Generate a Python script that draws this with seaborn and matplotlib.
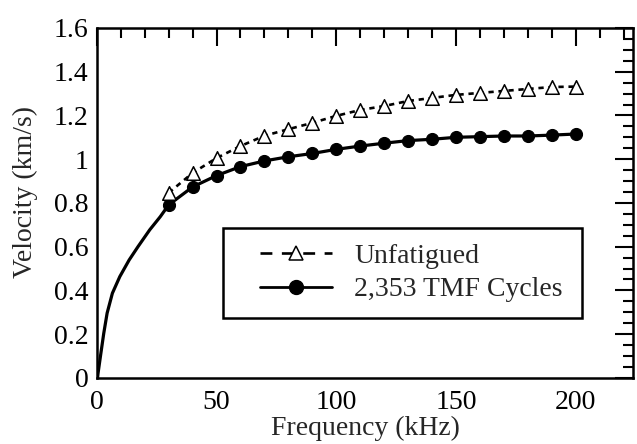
import numpy as np
import pandas as pd
import matplotlib
matplotlib.use("Agg")
import matplotlib.pyplot as plt
from matplotlib.lines import Line2D
from matplotlib.patches import Rectangle
from matplotlib.ticker import MultipleLocator
import seaborn as sns

# Measured points (kHz, km/s)
freq_pts = [30, 40, 50, 60, 70, 80, 90, 100, 110, 120, 130, 140, 150, 160, 170, 180, 190, 200]
vel_unfatigued = [0.846, 0.937, 1.005, 1.06, 1.107, 1.137, 1.166, 1.198, 1.225, 1.243,
                  1.266, 1.28, 1.294, 1.303, 1.312, 1.321, 1.33, 1.332]
vel_tmf = [0.791, 0.873, 0.925, 0.966, 0.992, 1.011, 1.026, 1.045, 1.06, 1.073,
           1.085, 1.091, 1.100, 1.103, 1.106, 1.106, 1.110, 1.115]

# Low-frequency branch of the dispersion curve
freq_low = [0.3, 0.5, 1.7, 2.9, 4.3, 6.5, 9.6, 13.5, 17.2, 22.1, 26.5]
vel_low = [0.0, 0.02, 0.113, 0.204, 0.296, 0.387, 0.463, 0.539, 0.6, 0.677, 0.737]

label_unfat = "Unfatigued"
label_tmf = "2,353 TMF Cycles"

sns.set_style("white")
plt.rcParams["font.family"] = ["Liberation Serif", "DejaVu Serif"]

FS = 20

fig = plt.figure(figsize=(6.37, 4.44), dpi=100)
ax = fig.add_axes([0.152, 0.149, 0.842, 0.788])

tmf_line = pd.DataFrame({"f": freq_low + freq_pts, "v": vel_low + vel_tmf})
unf_line = pd.DataFrame({"f": freq_pts, "v": vel_unfatigued})

sns.lineplot(data=tmf_line, x="f", y="v", ax=ax, color="black", lw=2.3,
             sort=True, estimator=None)
sns.lineplot(data=unf_line, x="f", y="v", ax=ax, color="black", lw=1.9,
             estimator=None)
ax.lines[-1].set_dashes((2.0, 1.8))

sns.scatterplot(x=freq_pts, y=vel_tmf, ax=ax, marker="o", s=75, color="black",
                edgecolor="black", linewidth=0.8, zorder=5)
sns.scatterplot(x=freq_pts, y=vel_unfatigued, ax=ax, marker="^", s=95,
                facecolor="white", edgecolor="black", linewidth=1.1, zorder=5)

ax.set_xlim(0, 224)
ax.set_ylim(0, 1.6)
ax.xaxis.set_major_locator(MultipleLocator(50))
ax.xaxis.set_minor_locator(MultipleLocator(10))
ax.yaxis.set_major_locator(MultipleLocator(0.2))
ax.yaxis.set_minor_locator(MultipleLocator(0.05))
ax.set_yticks(ax.get_yticks())
ax.set_yticklabels([("0" if abs(t) < 1e-9 else ("1" if abs(t - 1) < 1e-9 else f"{t:g}"))
                    for t in ax.get_yticks()])
ax.set_ylim(0, 1.6)

ax.tick_params(which="both", direction="in", top=True, right=True,
               width=1.5, colors="black", labelsize=FS, pad=6)
ax.tick_params(axis="x", which="both", pad=9)
ax.tick_params(which="major", length=13)
ax.tick_params(which="minor", length=7)
for s in ax.spines.values():
    s.set_linewidth(1.8)
    s.set_color("black")

ax.set_xlabel("Frequency (kHz)", fontsize=FS, labelpad=0)
ax.set_ylabel("Velocity (km/s)", fontsize=FS)
ax.yaxis.set_label_coords(-0.11, 0.53)

# Legend frame drawn as a box in axes coordinates
ax.add_patch(Rectangle((0.235, 0.171), 0.67, 0.257, transform=ax.transAxes,
                       facecolor="white", edgecolor="black", lw=1.8, zorder=6))

handles = [
    Line2D([], [], color="black", lw=1.9, dashes=(4.5, 3.6), marker="^", markersize=10,
           markerfacecolor="white", markeredgecolor="black", markeredgewidth=1.1),
    Line2D([], [], color="black", lw=2.0, marker="o", markersize=10,
           markerfacecolor="black", markeredgecolor="black"),
]
leg = ax.legend(handles, [label_unfat, label_tmf], loc="center left",
                bbox_to_anchor=(0.3035, 0.30), borderaxespad=0, borderpad=0,
                fontsize=FS, frameon=False, handlelength=2.6,
                labelspacing=0.3, handletextpad=0.8)
leg.set_zorder(7)

fig.savefig("out.png", dpi=100)
